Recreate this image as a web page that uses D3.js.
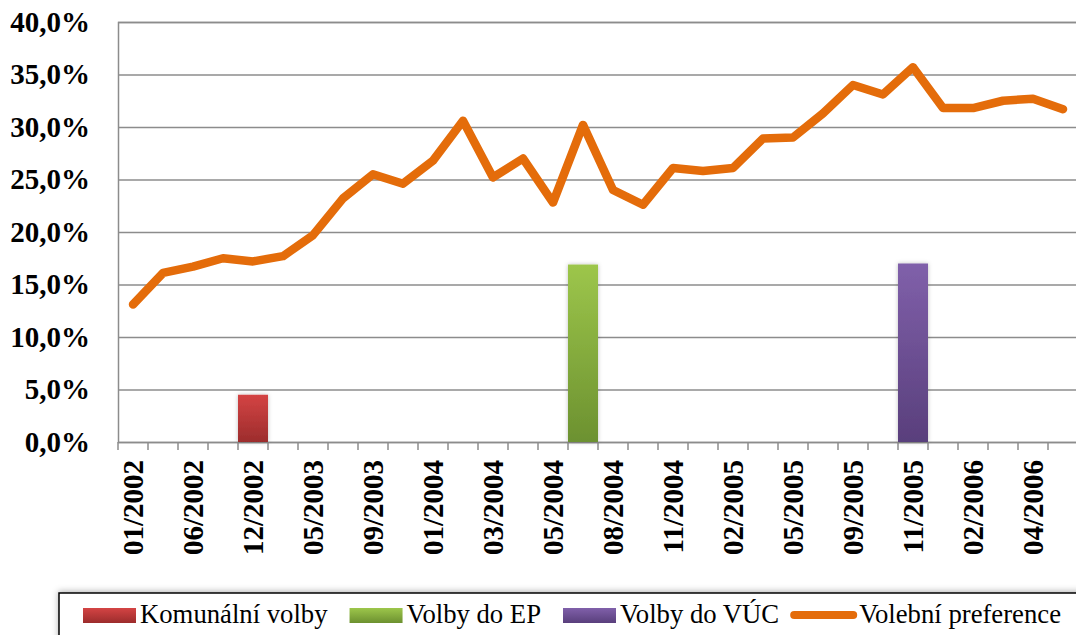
<!DOCTYPE html>
<html>
<head>
<meta charset="utf-8">
<script src="https://cdn.jsdelivr.net/npm/d3@7"></script>
<style>
  body { margin: 0; background: #fff; }
  text { font-family: "Liberation Serif", "Times New Roman", serif; }
</style>
</head>
<body>
<script>
// Define data
const months = [
  '01/2002', '03/2002', '06/2002', '09/2002', '12/2002', '02/2003', '05/2003', '07/2003',
  '09/2003', '11/2003', '01/2004', '02/2004', '03/2004', '04/2004', '05/2004', '06/2004',
  '08/2004', '10/2004', '11/2004', '01/2005', '02/2005', '04/2005', '05/2005', '06/2005',
  '09/2005', '10/2005', '11/2005', '01/2006', '02/2006', '03/2006', '04/2006', '05/2006'
];
const preference = [
  13.1, 16.1, 16.7, 17.5, 17.2, 17.7, 19.7, 23.2,
  25.5, 24.6, 26.8, 30.6, 25.2, 27.0, 22.8, 30.2,
  24.0, 22.6, 26.1, 25.8, 26.1, 28.9, 29.0, 31.3,
  34.0, 33.1, 35.7, 31.8, 31.8, 32.5, 32.7, 31.7
];
const electionNames = ['Komunální volby', 'Volby do EP', 'Volby do VÚC'];
const electionMonths = ['12/2002', '06/2004', '11/2005'];
const electionValues = [4.5, 16.9, 17.0];
const lineName = 'Volební preference';
const yTicks = [0, 5, 10, 15, 20, 25, 30, 35, 40];

const width = 1076, height = 635;
const margin = { top: 22, bottom: 193, right: -2, left: 118 };

const barColors = [
  ['#d44444', '#9c2c2c'],
  ['#9dc64b', '#6c9130'],
  ['#8060aa', '#593f7c']
];
const lineColor = '#e46c0a';

let svg = d3.select('body').append('svg')
            .attr('width', width).attr('height', height);

const defs = svg.append('defs');
barColors.forEach((c, i) => {
  const g = defs.append('linearGradient')
    .attr('id', 'grad' + i).attr('x1', 0).attr('y1', 0).attr('x2', 0).attr('y2', 1);
  g.append('stop').attr('offset', '0%').attr('stop-color', c[0]);
  g.append('stop').attr('offset', '100%').attr('stop-color', c[1]);
});
const shadow = defs.append('filter').attr('id', 'shadow')
  .attr('x', '-20%').attr('y', '-20%').attr('width', '140%').attr('height', '140%');
shadow.append('feDropShadow').attr('dx', 0).attr('dy', 0).attr('stdDeviation', 2)
  .attr('flood-color', '#000').attr('flood-opacity', 0.25);
const legendShadow = defs.append('filter').attr('id', 'lshadow')
  .attr('x', '-5%').attr('y', '-50%').attr('width', '110%').attr('height', '200%');
legendShadow.append('feDropShadow').attr('dx', 0).attr('dy', -1).attr('stdDeviation', 3)
  .attr('flood-color', '#000').attr('flood-opacity', 0.3);

const yscale = d3.scaleLinear()
                .domain([0, 40])
                .range([height - margin.bottom, margin.top]);

const xscale = d3.scaleBand()
                  .domain(months)
                  .range([margin.left, width - margin.right])
                  .padding(0);

// gridlines + y labels
const yaxis = svg.append('g')
  .attr('transform', `translate(${margin.left}, 0)`)
  .call(d3.axisLeft(yscale)
    .tickValues(yTicks)
    .tickSize(-(width - margin.right - margin.left))
    .tickPadding(28)
    .tickFormat(d => d.toFixed(1).replace('.', ',') + '%'));
yaxis.select('.domain').attr('stroke', '#8c8c8c').attr('stroke-width', 1.5);
yaxis.selectAll('.tick line').attr('stroke', '#8c8c8c').attr('stroke-width', 1.5);
yaxis.selectAll('.tick text')
  .attr('font-family', '"Liberation Serif", serif')
  .attr('font-weight', 'bold')
  .attr('font-size', 29)
  .attr('fill', '#000');

// x axis: ticks on band boundaries, labels every other category
const xaxis = svg.append('g')
  .attr('transform', `translate(0, ${height - margin.bottom})`);
xaxis.selectAll('line')
  .data(months)
  .enter().append('line')
  .attr('x1', d => xscale(d)).attr('x2', d => xscale(d))
  .attr('y1', 0).attr('y2', 8)
  .attr('stroke', '#8c8c8c').attr('stroke-width', 1.5);
xaxis.selectAll('text')
  .data(months.filter((d, i) => i % 2 === 0))
  .enter().append('text')
  .attr('transform', d => `translate(${xscale(d) + xscale.bandwidth() / 2}, 18) rotate(-90)`)
  .attr('text-anchor', 'end')
  .attr('dy', '0.34em')
  .attr('font-weight', 'bold')
  .attr('font-size', 29)
  .text(d => d);

// election bars
svg.selectAll('rect.bar')
  .data(electionMonths)
  .enter().append('rect')
  .attr('class', 'bar')
  .attr('x', d => xscale(d))
  .attr('y', (d, i) => yscale(electionValues[i]))
  .attr('width', xscale.bandwidth())
  .attr('height', (d, i) => yscale(0) - yscale(electionValues[i]))
  .attr('fill', (d, i) => `url(#grad${i})`)
  .attr('filter', 'url(#shadow)');

// preference line
const line = d3.line()
  .x((d, i) => xscale(months[i]) + xscale.bandwidth() / 2)
  .y(d => yscale(d));
svg.append('path')
  .datum(preference)
  .attr('d', line)
  .attr('fill', 'none')
  .attr('stroke', lineColor)
  .attr('stroke-width', 8.5)
  .attr('stroke-linejoin', 'round')
  .attr('stroke-linecap', 'round');

// legend
const legend = svg.append('g');
legend.append('rect')
  .attr('x', 59).attr('y', 593)
  .attr('width', 1030).attr('height', 60)
  .attr('fill', '#fff')
  .attr('stroke', '#000').attr('stroke-width', 1.5)
  .attr('filter', 'url(#lshadow)');

let lx = 83;
const ly = 615;
electionNames.forEach((name, i) => {
  legend.append('rect')
    .attr('x', lx).attr('y', ly - 7)
    .attr('width', 53).attr('height', 15)
    .attr('fill', `url(#grad${i})`);
  const t = legend.append('text')
    .attr('x', lx + 57).attr('y', ly + 8)
    .attr('font-size', 26.7)
    .text(name);
  lx = lx + 57 + t.node().getComputedTextLength() + 22;
});
lx -= 11;
legend.append('line')
  .attr('x1', lx + 4).attr('x2', lx + 63)
  .attr('y1', ly).attr('y2', ly)
  .attr('stroke', lineColor).attr('stroke-width', 8)
  .attr('stroke-linecap', 'round');
legend.append('text')
  .attr('x', lx + 69).attr('y', ly + 8)
  .attr('font-size', 26.7)
  .text(lineName);
</script>
</body>
</html>
